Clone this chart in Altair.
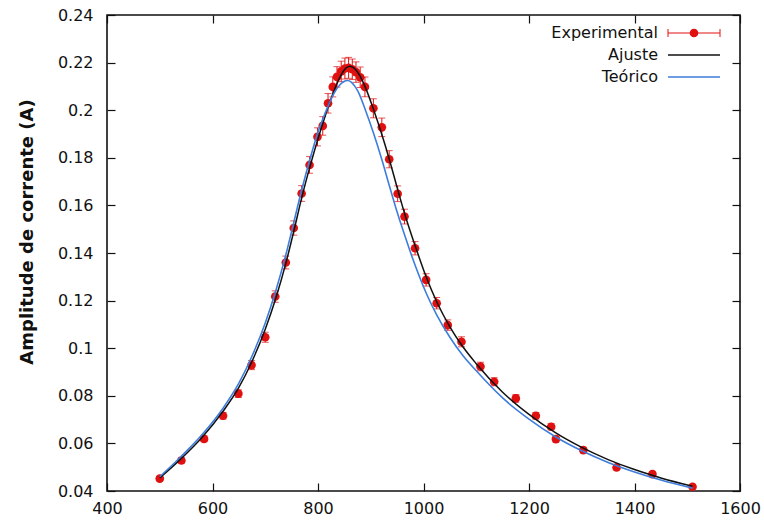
import altair as alt
import pandas as pd

FONT = "DejaVu Sans"
RED = "#e01010"
BLUE = "#3d7ddc"
INK = "#111111"

# ---- data ----
freq_exp = [500, 541, 584, 620, 649, 674, 700, 719, 739, 754,
            769, 784, 799, 809, 819, 828, 836, 844, 851, 858,
            865, 872, 880, 889, 905, 921, 935, 951, 964, 984,
            1005, 1025, 1046, 1072, 1108, 1134, 1175, 1213, 1242, 1251,
            1303, 1366, 1434, 1510]
amp_exp = [0.0452, 0.0528, 0.0619, 0.0716, 0.0809, 0.0929, 0.1046, 0.1217, 0.1360, 0.1505,
           0.1650, 0.1770, 0.1888, 0.1934, 0.2029, 0.2098, 0.2140, 0.2163, 0.2175, 0.2178,
           0.2172, 0.2160, 0.2138, 0.2098, 0.2008, 0.1928, 0.1794, 0.1649, 0.1553, 0.1420,
           0.1287, 0.1189, 0.1097, 0.1027, 0.0923, 0.0859, 0.0789, 0.0716, 0.0670, 0.0618,
           0.0572, 0.0499, 0.0471, 0.0418]
err_exp = [0.0009, 0.0011, 0.0012, 0.0014, 0.0016, 0.0019, 0.0021, 0.0024, 0.0027, 0.0030,
           0.0033, 0.0035, 0.0038, 0.0039, 0.0041, 0.0042, 0.0043, 0.0043, 0.0044, 0.0044,
           0.0043, 0.0043, 0.0043, 0.0042, 0.0040, 0.0039, 0.0036, 0.0033, 0.0031, 0.0028,
           0.0026, 0.0024, 0.0022, 0.0021, 0.0018, 0.0017, 0.0016, 0.0014, 0.0013, 0.0012,
           0.0011, 0.0010, 0.0009, 0.0008]

fit_f = [500, 540, 580, 620, 650, 675, 700, 720, 740, 755, 770, 785, 800, 815, 830,
         842, 852, 860, 868, 878, 890, 905, 920, 935, 950, 965, 985, 1005, 1025,
         1050, 1075, 1100, 1150, 1200, 1250, 1300, 1350, 1400, 1450, 1510]
fit_a = [0.0455, 0.0535, 0.0625, 0.0735, 0.0835, 0.0945, 0.1080, 0.1210, 0.1365, 0.1500,
         0.1640, 0.1765, 0.1880, 0.1985, 0.2080, 0.2140, 0.2175, 0.2185, 0.2178, 0.2150,
         0.2095, 0.2005, 0.1905, 0.1795, 0.1675, 0.1560, 0.1425, 0.1300, 0.1195,
         0.1090, 0.1005, 0.0935, 0.0815, 0.0722, 0.0645, 0.0583, 0.0532, 0.0490, 0.0455, 0.0420]

teo_f = [500, 540, 580, 620, 650, 675, 700, 720, 740, 755, 770, 785, 800, 815, 830,
         842, 850, 856, 863, 870, 876, 890, 905, 920, 935, 950, 965, 985, 1005, 1025,
         1050, 1075, 1100, 1150, 1200, 1250, 1300, 1350, 1400, 1450, 1510]
teo_a = [0.0460, 0.0544, 0.0636, 0.0748, 0.0853, 0.0967, 0.1106, 0.1241, 0.1401, 0.1537,
         0.1673, 0.1796, 0.1908, 0.1995, 0.2070, 0.2108, 0.2122, 0.2125, 0.2118, 0.2100,
         0.2078, 0.2000, 0.1905, 0.1800, 0.1685, 0.1572, 0.1470, 0.1343, 0.1232, 0.1140,
         0.1046, 0.0968, 0.0905, 0.0791, 0.0702, 0.0628, 0.0569, 0.0520, 0.0480, 0.0446, 0.0412]

x_ticks = [400, 600, 800, 1000, 1200, 1400, 1600]
y_ticks = [0.04, 0.06, 0.08, 0.1, 0.12, 0.14, 0.16, 0.18, 0.2, 0.22, 0.24]

legend_labels = ["Experimental", "Ajuste", "Teórico"]
y_title = "Amplitude de corrente (A)"

# ---- tables ----
df_exp = pd.DataFrame({
    "f": freq_exp,
    "a": amp_exp,
    "lo": [a - e for a, e in zip(amp_exp, err_exp)],
    "hi": [a + e for a, e in zip(amp_exp, err_exp)],
})
df_fit = pd.DataFrame({"f": fit_f, "a": fit_a})
df_teo = pd.DataFrame({"f": teo_f, "a": teo_a})
one = pd.DataFrame({"k": [0]})
dummy = pd.DataFrame({"f": [400, 1600], "a": [0.04, 0.24]})

xs = alt.Scale(domain=[400, 1600], nice=False, zero=False)
ys = alt.Scale(domain=[0.04, 0.24], nice=False, zero=False)

ax_b = alt.Axis(values=x_ticks, orient="bottom", offset=-8, tickSize=8, labelPadding=9,
                domain=False, grid=False, title=None, format="d",
                labelFlush=False, labelOverlap=False)
ax_l = alt.Axis(values=y_ticks, orient="left", offset=-8, tickSize=8, labelPadding=14,
                domain=False, grid=False, title=None, format="~g", labelOverlap=False)
ax_t = alt.Axis(values=x_ticks, orient="top", offset=-8, tickSize=8, labels=False,
                domain=False, grid=False, title=None)
ax_r = alt.Axis(values=y_ticks, orient="right", offset=-8, tickSize=8, labels=False,
                domain=False, grid=False, title=None)


def X(field):
    return alt.X(field, type="quantitative", scale=xs, axis=ax_b)


def Y(field):
    return alt.Y(field, type="quantitative", scale=ys, axis=ax_l)


err_rule = alt.Chart(df_exp).mark_rule(color=RED, strokeWidth=1).encode(
    x=X("f"), y=Y("lo"), y2="hi")
cap_lo = alt.Chart(df_exp).mark_tick(color=RED, orient="horizontal", size=7, thickness=1).encode(
    x=X("f"), y=Y("lo"))
cap_hi = alt.Chart(df_exp).mark_tick(color=RED, orient="horizontal", size=7, thickness=1).encode(
    x=X("f"), y=Y("hi"))
pts = alt.Chart(df_exp).mark_circle(color=RED, size=75, opacity=1).encode(
    x=X("f"), y=Y("a"))
fit_line = alt.Chart(df_fit).mark_line(color=INK, strokeWidth=1.5, interpolate="monotone").encode(
    x=X("f"), y=Y("a"))
teo_line = alt.Chart(df_teo).mark_line(color=BLUE, strokeWidth=1.6, interpolate="monotone").encode(
    x=X("f"), y=Y("a"))

title_txt = alt.Chart(one).mark_text(
    text=y_title, angle=270, font=FONT, fontSize=18, fontWeight="bold", color=INK,
    align="center", baseline="middle").encode(x=alt.value(-79), y=alt.value(217))

# ---- manual legend (gnuplot style: label left, sample right) ----
leg_y = [18, 40, 62]
leg_items = []
for lab, yy in zip(legend_labels, leg_y):
    leg_items.append(alt.Chart(one).mark_text(
        text=lab, font=FONT, fontSize=16, color=INK, align="right", baseline="middle"
    ).encode(x=alt.value(551), y=alt.value(yy)))

leg_items.append(alt.Chart(one).mark_rule(color=RED, strokeWidth=1).encode(
    x=alt.value(561), x2=alt.value(613), y=alt.value(leg_y[0])))
leg_items.append(alt.Chart(one).mark_rule(color=RED, strokeWidth=1).encode(
    x=alt.value(561), y=alt.value(leg_y[0] - 4), y2=alt.value(leg_y[0] + 4)))
leg_items.append(alt.Chart(one).mark_rule(color=RED, strokeWidth=1).encode(
    x=alt.value(613), y=alt.value(leg_y[0] - 4), y2=alt.value(leg_y[0] + 4)))
leg_items.append(alt.Chart(one).mark_circle(color=RED, size=75, opacity=1).encode(
    x=alt.value(587), y=alt.value(leg_y[0])))
leg_items.append(alt.Chart(one).mark_rule(color=INK, strokeWidth=1.5).encode(
    x=alt.value(561), x2=alt.value(613), y=alt.value(leg_y[1])))
leg_items.append(alt.Chart(one).mark_rule(color=BLUE, strokeWidth=1.6).encode(
    x=alt.value(561), x2=alt.value(613), y=alt.value(leg_y[2])))

main = alt.layer(err_rule, cap_lo, cap_hi, pts, fit_line, teo_line, title_txt, *leg_items)

mirror = alt.Chart(dummy).mark_point(opacity=0).encode(
    x=alt.X("f:Q", scale=xs, axis=ax_t),
    y=alt.Y("a:Q", scale=ys, axis=ax_r),
)

chart = (
    alt.layer(main, mirror)
    .resolve_scale(x="independent", y="independent")
    .resolve_axis(x="independent", y="independent")
    .properties(
        width=633, height=476,
        padding={"left": 107, "top": 15, "right": 24, "bottom": 41},
        autosize=alt.AutoSizeParams(type="none"),
        background="white",
    )
    .configure_view(stroke=INK, strokeWidth=1.6)
    .configure_axis(labelFont=FONT, labelFontSize=16, labelColor=INK,
                    tickColor=INK, tickWidth=1.2)
)

chart.save("out.html", embed_options={"renderer": "svg", "actions": False})
